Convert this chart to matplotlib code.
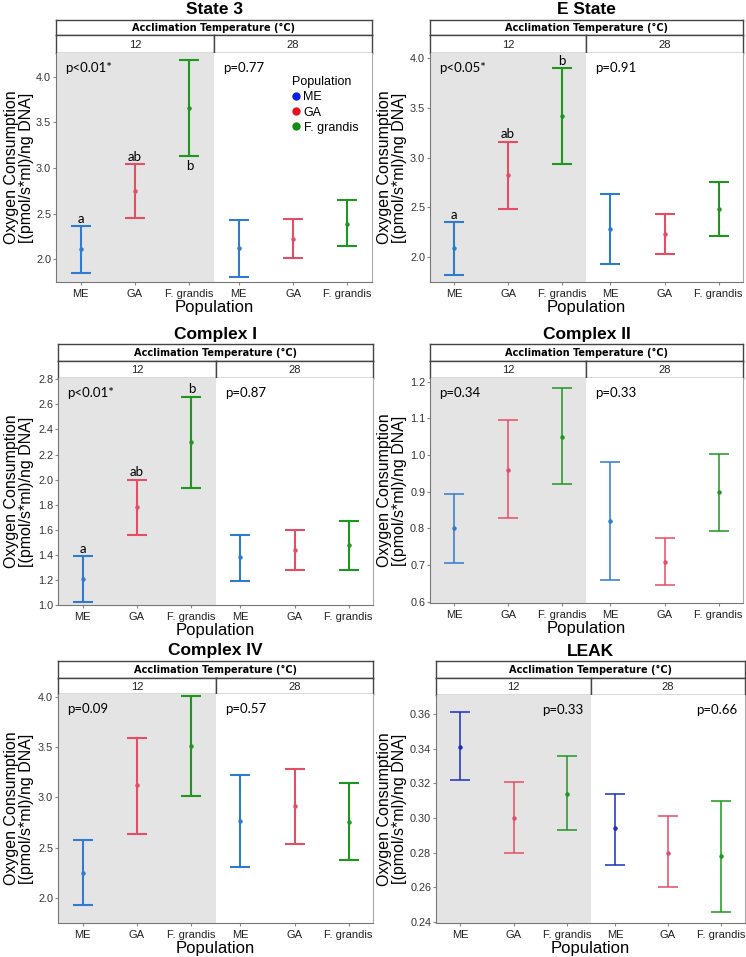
import matplotlib.pyplot as plt
from matplotlib.lines import Line2D
import numpy as np

plt.rcParams['font.family'] = ['Liberation Sans', 'DejaVu Sans']

W, H = 746, 957

populations = ["ME", "GA", "F. grandis"]
temps = ["12", "28"]

# values: 12 C (ME, GA, F. grandis) then 28 C (ME, GA, F. grandis)
state3_mean = [2.11, 2.75, 3.66, 2.12, 2.22, 2.39]
state3_low = [1.85, 2.45, 3.13, 1.81, 2.01, 2.14]
state3_high = [2.36, 3.04, 4.18, 2.43, 2.44, 2.65]
state3_letters = ["a", "ab", "b", "", "", ""]
state3_p = ["p<0.01*", "p=0.77"]

estate_mean = [2.09, 2.82, 3.42, 2.28, 2.23, 2.48]
estate_low = [1.82, 2.48, 2.94, 1.93, 2.03, 2.21]
estate_high = [2.35, 3.16, 3.90, 2.63, 2.43, 2.75]
estate_letters = ["a", "ab", "b", "", "", ""]
estate_p = ["p<0.05*", "p=0.91"]

c1_mean = [1.21, 1.78, 2.30, 1.38, 1.44, 1.48]
c1_low = [1.02, 1.56, 1.93, 1.19, 1.28, 1.28]
c1_high = [1.39, 2.00, 2.66, 1.56, 1.60, 1.67]
c1_letters = ["a", "ab", "b", "", "", ""]
c1_p = ["p<0.01*", "p=0.87"]

c2_mean = [0.80, 0.96, 1.05, 0.82, 0.71, 0.90]
c2_low = [0.705, 0.828, 0.921, 0.659, 0.647, 0.794]
c2_high = [0.894, 1.095, 1.184, 0.980, 0.773, 1.002]
c2_p = ["p=0.34", "p=0.33"]

c4_mean = [2.25, 3.12, 3.51, 2.77, 2.91, 2.76]
c4_low = [1.93, 2.64, 3.01, 2.31, 2.54, 2.38]
c4_high = [2.58, 3.59, 4.01, 3.22, 3.28, 3.14]
c4_p = ["p=0.09", "p=0.57"]

leak_mean = [0.341, 0.300, 0.314, 0.294, 0.280, 0.278]
leak_low = [0.322, 0.280, 0.293, 0.273, 0.260, 0.246]
leak_high = [0.361, 0.321, 0.336, 0.314, 0.301, 0.310]
leak_p = ["p=0.33", "p=0.66"]

colors = ["#2f7bd0", "#e34d66", "#1f961f"]
leak_colors = ["#1a2fc0", "#e34d66", "#1f961f"]
legend_colors = ["#0a1ee6", "#e8101e", "#138a13"]

fig = plt.figure(figsize=(W / 100, H / 100), dpi=100)


def add_ax(l, t, r, b):
    return fig.add_axes([l / W, 1 - b / H, (r - l) / W, (b - t) / H])


def strip(l, t, r, b, text, bold=False):
    ax = add_ax(l, t, r, b)
    ax.set_xticks([])
    ax.set_yticks([])
    for s in ax.spines.values():
        s.set_color("#444444")
        s.set_linewidth(1.0)
    if bold:
        ax.text(0.5, 0.45, text, ha="center", va="center", fontsize=7.8,
                fontweight="bold", fontstretch="condensed",
                family=["DejaVu Sans"], transform=ax.transAxes)
    else:
        ax.text(0.5, 0.45, text, ha="center", va="center", fontsize=8,
                color="#222222", transform=ax.transAxes)
    return ax


def panel(title, mean, low, high, pvals, geo, ylim, yticks, fmt,
          letters=None, below=(), cols=colors, lw=1.5, p_right=False):
    l, r, div, st, sm, pt, pb, ylab_x = geo
    fig.text((l + r) / 2 / W, 1 - (st - 10) / H, title, ha="center", va="center",
             fontsize=12.5, fontweight="bold")
    strip(l, st, r, sm, "Acclimation Temperature (°C)", bold=True)
    strip(l, sm, div, pt, temps[0])
    strip(div, sm, r, pt, temps[1])
    axes = []
    for k, (a, b) in enumerate([(l, div), (div, r)]):
        ax = add_ax(a, pt, b, pb)
        ax.set_facecolor("#e4e4e4" if k == 0 else "white")
        for i in range(3):
            j = k * 3 + i
            m = mean[j]
            ax.errorbar(i + 1, m, yerr=[[m - low[j]], [high[j] - m]], fmt="o",
                        ms=2.2, color=cols[i], ecolor=cols[i], elinewidth=lw,
                        capthick=lw, capsize=7)
            if letters and letters[j]:
                if j in below:
                    ax.annotate(letters[j], (i + 1, low[j]), xytext=(0, -3),
                                textcoords="offset points", ha="center", va="top",
                                fontsize=9.5, family=["Lato", "DejaVu Sans"])
                else:
                    ax.annotate(letters[j], (i + 1, high[j]), xytext=(0, 1),
                                textcoords="offset points", ha="center", va="bottom",
                                fontsize=9.5, family=["Lato", "DejaVu Sans"])
        ax.set_xlim(0.55, 3.45)
        ax.set_ylim(*ylim)
        ax.set_xticks([1, 2, 3])
        ax.set_xticklabels(populations, fontsize=8, color="#222222")
        ax.tick_params(axis="x", length=2, color="#888888", pad=3)
        ax.set_yticks(yticks)
        if k == 0:
            ax.set_yticklabels([fmt % v for v in yticks], fontsize=7.8, color="#333333")
            ax.tick_params(axis="y", length=2, color="#888888", pad=1.5)
        else:
            ax.tick_params(axis="y", length=0, labelleft=False)
        for s in ax.spines.values():
            s.set_visible(False)
        if k == 0:
            ax.spines["left"].set_visible(True)
            ax.spines["left"].set_color("#777777")
        else:
            ax.spines["right"].set_visible(True)
            ax.spines["right"].set_color("#aaaaaa")
        ax.spines["bottom"].set_visible(True)
        ax.spines["bottom"].set_color("#777777")
        if p_right:
            ax.text(0.95, 0.935, pvals[k], transform=ax.transAxes, ha="right",
                    va="center", fontsize=9.5, family=["Lato", "DejaVu Sans"])
        else:
            ax.text(0.06, 0.935, pvals[k], transform=ax.transAxes, ha="left",
                    va="center", fontsize=9.5, family=["Lato", "DejaVu Sans"])
        axes.append(ax)
    fig.text((l + r) / 2 / W, 1 - (pb + 25) / H, "Population", ha="center",
             va="center", fontsize=12)
    fig.text(ylab_x / W, 1 - (pt + pb) / 2 / H,
             "Oxygen Consumption\n[(pmol/s*ml)/ng DNA]", rotation=90, ha="center",
             va="center", fontsize=11.5, linespacing=1.05)
    return axes


panel("State 3", state3_mean, state3_low, state3_high, state3_p,
      (56, 372, 214, 20, 35, 53, 282, 19), (1.75, 4.26),
      [2.0, 2.5, 3.0, 3.5, 4.0], "%.1f", letters=state3_letters, below=(2,))
panel("E State", estate_mean, estate_low, estate_high, estate_p,
      (430, 743, 586, 20, 35, 53, 282, 392), (1.75, 4.05),
      [2.0, 2.5, 3.0, 3.5, 4.0], "%.1f", letters=estate_letters)
panel("Complex I", c1_mean, c1_low, c1_high, c1_p,
      (58, 373, 216, 344, 361, 378, 605, 19), (1.0, 2.81),
      [1.0, 1.2, 1.4, 1.6, 1.8, 2.0, 2.2, 2.4, 2.6, 2.8], "%.1f", letters=c1_letters)
panel("Complex II", c2_mean, c2_low, c2_high, c2_p,
      (430, 743, 586, 344, 361, 378, 603, 392), (0.597, 1.21),
      [0.6, 0.7, 0.8, 0.9, 1.0, 1.1, 1.2], "%.1f", lw=1.1)
panel("Complex IV", c4_mean, c4_low, c4_high, c4_p,
      (58, 373, 216, 661, 678, 694, 923, 19), (1.75, 4.03),
      [2.0, 2.5, 3.0, 3.5, 4.0], "%.1f")
panel("LEAK", leak_mean, leak_low, leak_high, leak_p,
      (436, 745, 591, 661, 678, 695, 923, 392), (0.2394, 0.371),
      [0.24, 0.26, 0.28, 0.30, 0.32, 0.34, 0.36], "%.2f",
      cols=leak_colors, lw=1.1, p_right=True)

handles = [Line2D([], [], marker="o", ls="", color=c, ms=5) for c in legend_colors]
fig.legend(handles, populations, title="Population", loc="upper left",
           bbox_to_anchor=(286 / W, 1 - 70 / H), frameon=False, fontsize=9,
           title_fontsize=9, handlelength=0.6, handletextpad=0.3,
           labelspacing=0.25, borderpad=0, alignment="left")

fig.savefig("out.png", dpi=100)
